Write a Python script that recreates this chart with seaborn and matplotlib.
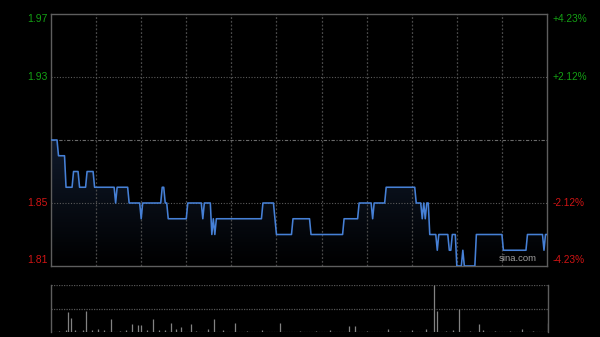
import numpy as np
import pandas as pd
import matplotlib
matplotlib.use("Agg")
import matplotlib.pyplot as plt
import seaborn as sns
from matplotlib.colors import LinearSegmentedColormap

# ---------------- data ----------------
prev_close = 1.89
run_prices = [1.89, 1.88, 1.86, 1.87, 1.86, 1.87, 1.86, 1.85, 1.86, 1.85,
              1.84, 1.85, 1.86, 1.85, 1.84, 1.85, 1.84, 1.85, 1.83, 1.84,
              1.83, 1.84, 1.85, 1.84, 1.83, 1.84, 1.83, 1.84, 1.85, 1.84,
              1.85, 1.86, 1.85, 1.84, 1.85, 1.84, 1.85, 1.83, 1.82, 1.83,
              1.82, 1.83, 1.81, 1.82, 1.81, 1.83, 1.82, 1.83, 1.82, 1.83]
run_lengths = [5, 5, 5, 4, 5, 5, 14, 1, 8, 8,
               1, 13, 2, 2, 13, 10, 1, 5, 1, 1,
               1, 31, 8, 1, 11, 12, 22, 10, 9, 1,
               8, 20, 4, 1, 1, 1, 2, 5, 1, 7,
               2, 3, 4, 1, 8, 18, 16, 11, 1, 2]

vol_minutes = [5, 10, 11, 13, 16, 21, 23, 27, 31, 35, 40, 46, 50, 54, 58, 60,
               64, 68, 72, 76, 80, 83, 86, 93, 96, 104, 108, 114, 122, 130,
               140, 152, 165, 176, 185, 198, 202, 210, 224, 232, 240, 249,
               254, 256, 262, 267, 271, 278, 284, 287, 295, 305, 313, 320, 330]
vol_values = [0.03, 0.05, 0.43, 0.30, 0.04, 0.05, 0.44, 0.04, 0.07, 0.05, 0.28,
              0.03, 0.04, 0.16, 0.14, 0.14, 0.04, 0.27, 0.05, 0.05, 0.20, 0.07,
              0.10, 0.16, 0.03, 0.06, 0.27, 0.04, 0.20, 0.03, 0.04, 0.20, 0.03,
              0.03, 0.04, 0.12, 0.12, 0.03, 0.06, 0.03, 0.04, 0.06, 1.00, 0.44,
              0.03, 0.05, 0.49, 0.03, 0.17, 0.04, 0.03, 0.03, 0.06, 0.03, 0.20]

left_levels = [1.97, 1.93, 1.85, 1.81]
left_labels = ["1.97", "1.93", "1.85", "1.81"]
right_labels = ["+4.23%", "+2.12%", "-2.12%", "-4.23%"]
grid_levels = [1.93, 1.85]
total_minutes = 330

price = np.repeat(run_prices, run_lengths)
df = pd.DataFrame({"minute": np.arange(len(price)), "price": price})
vdf = pd.DataFrame({"minute": vol_minutes, "volume": vol_values})

# ---------------- style ----------------
sns.set_style("dark", {"axes.facecolor": "black", "figure.facecolor": "black"})
plt.rcParams["font.family"] = ["Liberation Sans", "DejaVu Sans"]

GREEN = "#14a014"
RED = "#d01414"
BORDER = "#5e5e5e"
GRID = "#4a4a4a"

fig = plt.figure(figsize=(6, 3.37), dpi=100, facecolor="black")
ax = fig.add_axes([51 / 600, 1 - 266 / 337, 496 / 600, 252 / 337])
axv = fig.add_axes([51 / 600, 1 - 332 / 337, 497 / 600, 47 / 337])

ymin, ymax = 1.81, 1.97
ax.set_xlim(0, total_minutes)
ax.set_ylim(ymin, ymax)
ax.set_facecolor("black")

# gradient fill below line
cmap = LinearSegmentedColormap.from_list("g", ["#000000", "#101a2b"])
grad = np.linspace(0, 1, 256).reshape(-1, 1)
im = ax.imshow(grad, extent=[0, total_minutes, ymin, 1.89], origin="lower",
               aspect="auto", cmap=cmap, zorder=1)
poly = ax.fill_between(df["minute"], df["price"], ymin, color="none", lw=0)
im.set_clip_path(poly.get_paths()[0], transform=ax.transData)

# grid
for m in range(30, total_minutes, 30):
    ax.axvline(m, color=GRID, lw=0.9, ls=(0, (1.5, 1.5)), zorder=2)
for lv in grid_levels:
    ax.axhline(lv, color="#5a5a5a", lw=0.8, ls=(0, (1, 1.5)), zorder=2)
ax.axhline(prev_close, color="#6a6a6a", lw=0.8, ls=(0, (3, 1.5, 1, 1.5)), zorder=2)

sns.lineplot(data=df, x="minute", y="price", ax=ax, color="#4680d6", lw=1.15,
             zorder=3, legend=False)

ax.set_xticks([])
ax.set_yticks([])
ax.set_xlabel("")
ax.set_ylabel("")
for s in ax.spines.values():
    s.set_visible(True)
    s.set_color(BORDER)
    s.set_linewidth(1.0)

# axis labels
for lv, ll, rl in zip(left_levels, left_labels, right_labels):
    col = GREEN if lv > prev_close else RED
    if lv == ymax:
        ypos = lv - 0.0034
    elif lv == ymin:
        ypos = lv + 0.0038
    else:
        ypos = lv
    ax.text(-0.007, ypos, ll, transform=ax.get_yaxis_transform(),
            ha="right", va="center", color=col, fontsize=7.5)
    ax.text(1.012, ypos, rl, transform=ax.get_yaxis_transform(),
            ha="left", va="center", color=col, fontsize=7.3)

ax.text(0.98, 0.012, "sina.com", transform=ax.transAxes, ha="right",
        va="bottom", color="#a0a0a0", fontsize=6.8, zorder=4)

# volume
axv.set_facecolor("black")
axv.set_xlim(0, total_minutes)
axv.set_ylim(0, 1.0)
for lv in [0.0, 0.5, 1.0]:
    axv.axhline(lv, color="#555555", lw=0.9, ls=(0, (1, 1)), zorder=1)
axv.vlines(vdf["minute"], 0, vdf["volume"], color="#828282", lw=0.9, zorder=2)
axv.set_xticks([])
axv.set_yticks([])
for k, s in axv.spines.items():
    if k in ("left", "right"):
        s.set_visible(True)
        s.set_color(BORDER)
        s.set_linewidth(1.0)
    else:
        s.set_visible(False)

fig.savefig("out.png", dpi=100, facecolor="black")
